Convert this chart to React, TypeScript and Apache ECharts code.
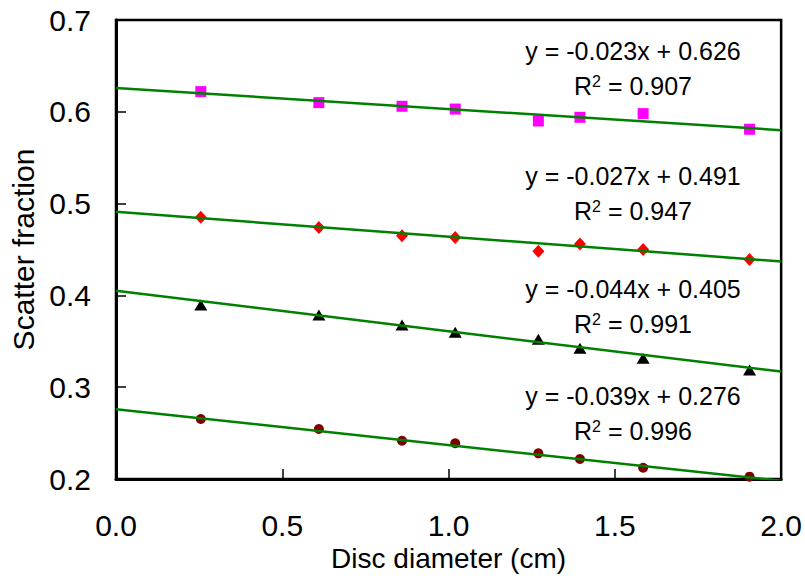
import React, { useEffect, useRef } from "react";
import * as echarts from "echarts";

const diameters = [0.255, 0.61, 0.86, 1.02, 1.27, 1.395, 1.585, 1.905];
const squareSeries = [0.622, 0.61, 0.606, 0.603, 0.59, 0.594, 0.598, 0.581];
const diamondSeries = [0.485, 0.474, 0.465, 0.463, 0.448, 0.456, 0.45, 0.439];
const triangleSeries = [0.3895, 0.3786, 0.3678, 0.3598, 0.3522, 0.3424, 0.3315, 0.3187];
const circleSeries = [0.2654, 0.2545, 0.2417, 0.2389, 0.228, 0.2218, 0.2123, 0.2025];

const slopes = [-0.023, -0.027, -0.044, -0.039];
const intercepts = [0.626, 0.491, 0.405, 0.276];
const eqLabels = ["y = -0.023x + 0.626", "y = -0.027x + 0.491", "y = -0.044x + 0.405", "y = -0.039x + 0.276"];
const r2Values = ["0.907", "0.947", "0.991", "0.996"];
const xTrendRange = [0, 2];

const FONT = "'Liberation Sans', Arial, Helvetica, sans-serif";

export default function App() {
  const ref = useRef<HTMLDivElement>(null);
  useEffect(() => {
    if (!ref.current) return;
    const chart = echarts.init(ref.current, null, { renderer: "svg" });
    const pts = (ys: number[]) => diameters.map((x, i) => [x, ys[i]]);
    const trend = (k: number) => xTrendRange.map((x) => [x, slopes[k] * x + intercepts[k]]);

    const eqY = [51, 175.5, 288.5, 395.5];
    const r2Y = [86, 211, 324, 431];
    const eqX = 633;
    const graphics: any[] = [];
    for (let k = 0; k < 4; k++) {
      graphics.push({
        type: "text",
        x: eqX,
        y: eqY[k],
        z: 100,
        style: {
          text: eqLabels[k],
          fill: "#000",
          font: `25px ${FONT}`,
          textAlign: "center",
          textVerticalAlign: "middle",
        },
      });
      graphics.push({
        type: "text",
        x: eqX,
        y: r2Y[k],
        z: 100,
        style: {
          text: `R{sup|2} = ${r2Values[k]}`,
          fill: "#000",
          fontSize: 25,
          fontFamily: FONT,
          textAlign: "center",
          textVerticalAlign: "middle",
          rich: {
            sup: { fontSize: 16, fontFamily: FONT, fill: "#000", verticalAlign: "top", padding: [0, 0, 10, 0] },
          },
        },
      });
    }

    chart.setOption({
      animation: false,
      backgroundColor: "#fff",
      grid: { left: 116, right: 23, top: 20, bottom: 100, show: true, borderColor: "#000", borderWidth: 2.5, backgroundColor: "transparent" },
      xAxis: {
        type: "value",
        min: 0,
        max: 2,
        interval: 0.5,
        name: "Disc diameter (cm)",
        nameLocation: "middle",
        nameGap: 62,
        nameTextStyle: { fontSize: 28, color: "#000", fontFamily: FONT },
        axisLine: { show: true, lineStyle: { color: "#000", width: 3 } },
        axisTick: { show: true, inside: true, length: 10, lineStyle: { color: "#000", width: 1.5 } },
        axisLabel: { fontSize: 30, color: "#000", fontFamily: FONT, margin: 31, formatter: (v: number) => v.toFixed(1) },
        splitLine: { show: false },
      },
      yAxis: {
        type: "value",
        min: 0.2,
        max: 0.7,
        interval: 0.1,
        name: "Scatter fraction",
        nameLocation: "middle",
        nameRotate: 90,
        nameGap: 78,
        nameTextStyle: { fontSize: 30, color: "#000", fontFamily: FONT },
        axisLine: { show: true, lineStyle: { color: "#000", width: 3 } },
        axisTick: { show: true, inside: true, length: 10, lineStyle: { color: "#000", width: 1.5 } },
        axisLabel: { fontSize: 30, color: "#000", fontFamily: FONT, margin: 25, formatter: (v: number) => v.toFixed(1) },
        splitLine: { show: false },
      },
      graphic: graphics,
      series: [
        { type: "scatter", data: pts(squareSeries), symbol: "rect", symbolSize: 11, itemStyle: { color: "#ff00ff", opacity: 1 }, z: 2 },
        { type: "scatter", data: pts(diamondSeries), symbol: "diamond", symbolSize: [12, 13], itemStyle: { color: "#ff0000", opacity: 1 }, z: 2 },
        { type: "scatter", data: pts(triangleSeries), symbol: "triangle", symbolSize: [13, 11], itemStyle: { color: "#000000", opacity: 1 }, z: 2 },
        { type: "scatter", data: pts(circleSeries), symbol: "circle", symbolSize: 10, itemStyle: { color: "#800000", opacity: 1 }, z: 2 },
        ...[0, 1, 2, 3].map((k) => ({
          type: "line",
          data: trend(k),
          symbol: "none",
          lineStyle: { color: "#008000", width: 2.5 },
          z: 3,
        })),
      ],
    });
    return () => chart.dispose();
  }, []);
  return <div ref={ref} style={{ width: 805, height: 579, position: "absolute", left: 0, top: 0 }} />;
}
